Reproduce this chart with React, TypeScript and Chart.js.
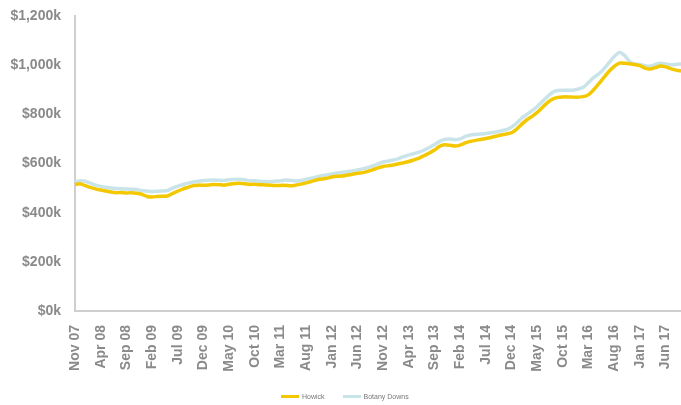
import React, { useEffect, useRef } from "react";
import { Chart, registerables } from "chart.js";

Chart.register(...registerables);

const MONTHS = ["Jan", "Feb", "Mar", "Apr", "May", "Jun", "Jul", "Aug", "Sep", "Oct", "Nov", "Dec"];

// Monthly labels Nov 07 .. Sep 17
const categories: string[] = [];
for (let i = 0; i < 119; i++) {
  const m = (10 + i) % 12;
  const y = 7 + Math.floor((10 + i) / 12);
  categories.push(`${MONTHS[m]} ${String(y).padStart(2, "0")}`);
}

const howick = [
  515, 518, 510, 503, 497, 492, 488, 484, 481, 482,
  480, 481, 479, 475, 466, 464, 466, 467, 468, 478,
  488, 496, 503, 510, 512, 512, 513, 515, 514, 512,
  516, 518, 520, 518, 515, 516, 514, 513, 512, 511,
  511, 511, 509, 512, 516, 521, 527, 533, 537, 540,
  545, 548, 549, 553, 556, 560, 563, 568, 575, 582,
  588, 591, 594, 599, 603, 608, 615, 622, 632, 643,
  655, 670, 676, 674, 671, 675, 684, 690, 694, 698,
  702, 706, 711, 716, 720, 725, 740, 760, 778, 792,
  808, 828, 848, 862, 869, 871, 871, 870, 870, 872,
  880, 900, 925, 950, 975, 995, 1008, 1008, 1006, 1003,
  998, 988, 984, 990, 997, 993, 986, 980, 976,
];

const botanyDowns = [
  525, 530, 528, 520, 512, 507, 503, 500, 498, 497,
  496, 495, 494, 490, 488, 486, 487, 488, 490, 500,
  508, 514, 520, 525, 528, 530, 532, 533, 532, 531,
  534, 535, 536, 534, 530, 530, 528, 527, 526, 528,
  530, 533, 531, 529, 531, 535, 540, 545, 550, 553,
  557, 561, 563, 567, 570, 574, 578, 583, 590, 598,
  606, 610, 614, 620, 628, 635, 640, 646, 655, 665,
  677, 690, 698, 700, 697, 700, 710, 716, 718, 720,
  722, 725, 728, 733, 738, 748, 765, 785, 800, 815,
  832, 852, 872, 890, 897, 898, 898, 898, 903, 910,
  930, 950, 965, 985, 1010, 1035, 1052, 1040, 1015, 1005,
  1003, 998, 996, 1003, 1008, 1005, 1002, 1003, 1005,
];

const yTicks = [0, 200, 400, 600, 800, 1000, 1200];

const seriesNames = ["Howick", "Botany Downs"];
const seriesColors = ["#F3C800", "#C9E4E9"];

export default function App() {
  const ref = useRef<HTMLCanvasElement | null>(null);

  useEffect(() => {
    if (!ref.current) return;
    const tickFont = { family: "Liberation Sans, Arial, sans-serif", size: 14, weight: "bold" as const };
    const chart = new Chart(ref.current, {
      type: "line",
      data: {
        labels: categories,
        datasets: [howick, botanyDowns].map((d, i) => ({
          label: seriesNames[i],
          data: d,
          borderColor: seriesColors[i],
          backgroundColor: seriesColors[i],
          borderWidth: 3.5,
          pointRadius: 0,
          tension: 0.2,
        })),
      },
      options: {
        animation: false,
        responsive: false,
        maintainAspectRatio: false,
        layout: { padding: { top: 16, right: 0, left: 0, bottom: 15 } },
        plugins: {
          tooltip: { enabled: false },
          legend: { display: false },
        },
        scales: {
          x: {
            grid: { display: false },
            border: { display: true, color: "#cfcfcf", width: 2 },
            afterFit: (s: any) => {
              s.height = 79;
              s.paddingLeft = 0;
              s.paddingRight = 0;
            },
            ticks: {
              autoSkip: false,
              maxRotation: 90,
              minRotation: 90,
              padding: 6,
              color: "#8a8a8a",
              font: tickFont,
              callback: (_v: any, i: number) => (i % 5 === 0 ? categories[i] : null),
            },
          },
          y: {
            min: 0,
            max: 1200,
            grid: { display: false, drawTicks: false },
            border: { display: true, color: "#cfcfcf", width: 2 },
            afterFit: (s: any) => {
              s.width = 75;
              s.paddingTop = 0;
              s.paddingBottom = 0;
            },
            afterBuildTicks: (s: any) => {
              s.ticks = yTicks.map((v) => ({ value: v }));
            },
            ticks: {
              padding: 14,
              color: "#8a8a8a",
              font: tickFont,
              callback: (v: any) => "$" + Number(v).toLocaleString("en-US") + "k",
            },
          },
        },
      },
    });
    return () => chart.destroy();
  }, []);

  return (
    <div style={{ position: "absolute", left: 0, top: 0, width: 681, height: 405, background: "#fff" }}>
      <canvas ref={ref} width={681} height={405} style={{ width: 681, height: 405, display: "block" }} />
      <div
        style={{
          position: "absolute",
          left: 281,
          top: 393,
          display: "flex",
          alignItems: "center",
          gap: 18,
          fontFamily: "Liberation Sans, Arial, sans-serif",
          fontSize: 7,
          color: "#777",
          whiteSpace: "nowrap",
        }}
      >
        {seriesNames.map((n, i) => (
          <div key={n} style={{ display: "flex", alignItems: "center", gap: 3 }}>
            <span style={{ display: "inline-block", width: 18, height: 3, background: seriesColors[i] }} />
            <span>{n}</span>
          </div>
        ))}
      </div>
    </div>
  );
}
